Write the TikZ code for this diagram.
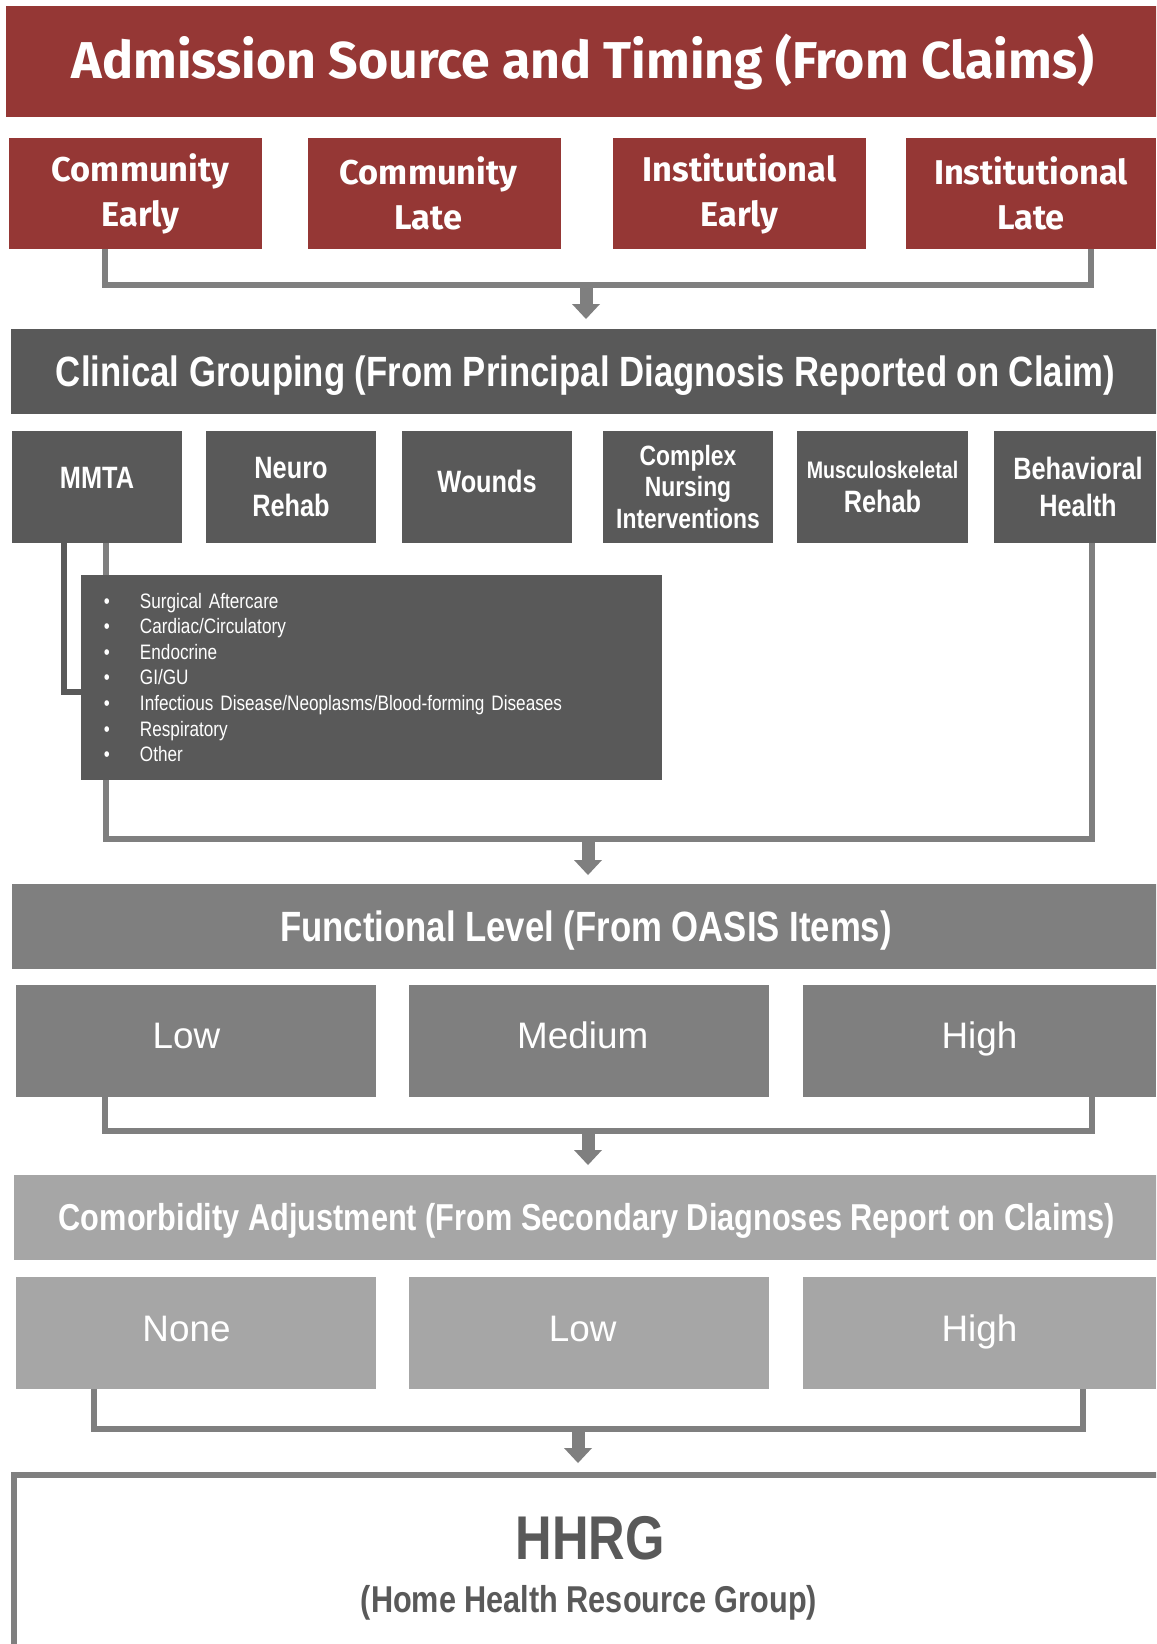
\documentclass[tikz,border=0pt]{standalone}
\usepackage{fontspec}
\setmainfont{Liberation Sans}
\newfontfamily\narrowfont[FakeStretch=0.82]{Liberation Sans}
\newfontfamily\headfont{Fira Sans}
\usetikzlibrary{arrows.meta,backgrounds}
\definecolor{cred}{HTML}{953735}
\definecolor{cdark}{HTML}{595959}
\definecolor{cmid}{HTML}{7F7F7F}
\definecolor{clight}{HTML}{A6A6A6}
\begin{document}
\begin{tikzpicture}[x=1bp,y=-1bp,
  box/.style={rectangle, inner sep=0pt, outer sep=0pt, text=white, align=center},
  titlered/.style={box, fill=cred, font=\headfont\bfseries\fontsize{52}{60}\selectfont, text height=35bp, text depth=0bp, minimum height=111bp},
  srcbox/.style={box, fill=cred, minimum width=253bp, minimum height=111bp, font=\headfont\bfseries\fontsize{34.5}{45}\selectfont},
  hdrdark/.style={box, fill=cdark, font=\narrowfont\bfseries\fontsize{42.5}{50}\selectfont, text height=30.4bp, text depth=0bp, minimum height=85bp},
  cgbox/.style={box, fill=cdark, minimum width=170bp, minimum height=112bp, font=\narrowfont\bfseries\fontsize{31}{38}\selectfont},
  listbox/.style={box, fill=cdark, minimum width=581bp, minimum height=205bp, text width=535bp, inner xsep=23bp, align=left, font=\narrowfont\fontsize{21}{25.7}\selectfont},
  hdrmid/.style={box, fill=cmid, font=\narrowfont\bfseries\fontsize{42.5}{50}\selectfont, text height=30.4bp, text depth=0bp, minimum height=85bp},
  lvlmid/.style={box, fill=cmid, minimum width=360bp, minimum height=112bp, font=\fontsize{37}{44}\selectfont, text height=26.5bp, text depth=12bp},
  hdrlight/.style={box, fill=clight, font=\narrowfont\bfseries\fontsize{37.6}{44}\selectfont, text height=26.9bp, text depth=0bp, minimum height=85bp},
  lvllight/.style={box, fill=clight, minimum width=360bp, minimum height=112bp, font=\fontsize{37}{44}\selectfont, text height=26.5bp, text depth=10bp},
  conn/.style={draw=cmid, line width=6bp},
  darkconn/.style={draw=cdark, line width=6bp},
  arr/.style={draw=cmid, line width=13bp, -{Triangle[width=28bp,length=15bp,line width=0pt]}},
  hhrgbox/.style={draw=cmid, line width=6bp, fill=white, minimum width=1160bp, minimum height=200bp, inner sep=0pt, outer sep=0pt, anchor=north west},
  hhrgtext/.style={inner sep=0pt, text=cdark, font=\narrowfont\bfseries}
]
\useasboundingbox (0,0) rectangle (1156,1644);
\clip (0,0) rectangle (1156,1644);

% Level 1
\node[titlered, minimum width=1154bp] (title) at (583,61.5) {Admission Source and Timing (From Claims)};
\node[srcbox] (ce) at (135.5,193.5) {\hspace*{10bp}Community\\\hspace*{10bp}Early};
\node[srcbox] (cl) at (434.5,193.5) {\hspace*{-12bp}Community\\\hspace*{-12bp}Late};
\node[srcbox] (ie) at (739.5,193.5) {Institutional\\Early};
\node[srcbox, minimum width=250bp] (il) at (1031,193.5) {Institutional\\Late};

% Level 2
\node[hdrdark, minimum width=1149bp] (cg) at (585.5,371.5) {Clinical Grouping (From Principal Diagnosis Reported on Claim)};
\node[cgbox, text height=22bp, text depth=20bp] (mmta) at (97,487) {MMTA};
\node[cgbox] (nr) at (291,487) {Neuro\\Rehab};
\node[cgbox, text height=22bp, text depth=12bp] (wo) at (487,487) {Wounds};
\node[cgbox, font=\narrowfont\bfseries\fontsize{28}{32}\selectfont] (cn) at (688,487) {Complex\\Nursing\\Interventions};
\node[cgbox, minimum width=171bp, font=\narrowfont\bfseries\fontsize{31}{35}\selectfont] (ms) at (882.5,487) {{\fontsize{24}{28}\selectfont Musculoskeletal}\\Rehab};
\node[cgbox, minimum width=162bp] (bh) at (1075,487) {\hspace*{6bp}Behavioral\\\hspace*{6bp}Health};
\node[listbox] (list) at (371.5,677.5) {%
\makebox[36bp][l]{•}Surgical Aftercare\\
\makebox[36bp][l]{•}Cardiac/Circulatory\\
\makebox[36bp][l]{•}Endocrine\\
\makebox[36bp][l]{•}GI/GU\\
\makebox[36bp][l]{•}Infectious Disease/Neoplasms/Blood-forming Diseases\\
\makebox[36bp][l]{•}Respiratory\\
\makebox[36bp][l]{•}Other};

% Level 3
\node[hdrmid, minimum width=1148bp] (fl) at (586,926.5) {Functional Level (From OASIS Items)};
\node[lvlmid] (flow) at (196,1041) {\hspace*{-19bp}Low};
\node[lvlmid] (fmed) at (589,1041) {\hspace*{-12.6bp}Medium};
\node[lvlmid, minimum width=353bp] (fhigh) at (979.5,1041) {High};

% Level 4
\node[hdrlight, minimum width=1146bp] (ca) at (587,1217.5) {Comorbidity Adjustment (From Secondary Diagnoses Report on Claims)};
\node[lvllight] (cnone) at (196,1333) {\hspace*{-19bp}None};
\node[lvllight] (clow) at (589,1333) {\hspace*{-12.6bp}Low};
\node[lvllight, minimum width=353bp] (chigh) at (979.5,1333) {High};

% Result
\node[hhrgbox] (hhrg) at (14,1475) {};
\node[hhrgtext, font=\narrowfont\bfseries\fontsize{62}{70}\selectfont, text height=44.4bp, text depth=0bp] (hhrgt) at (590,1537) {HHRG};
\node[hhrgtext, font=\narrowfont\bfseries\fontsize{37.5}{44}\selectfont, text height=26.8bp, text depth=0bp] (hhrgs) at (589,1599) {(Home Health Resource Group)};

% Connectors
\coordinate (b1) at (586,285);
\coordinate (b2) at (588,839);
\coordinate (b3) at (588,1131);
\coordinate (b4) at (578,1429);
\begin{scope}[on background layer]
  \fill[white] (0,0) rectangle (1156,1644);
  \draw[conn] ([xshift=96bp]ce.south west) |- (b1) -| ([xshift=185bp]il.south west);
  \draw[arr, shorten >=10bp] (b1) -- (b1 |- cg.north);
  \draw[darkconn] ([xshift=52bp]mmta.south west) |- ([yshift=-14.5bp]list.west);
  \draw[conn] ([xshift=94bp]mmta.south west) |- (b2) -| ([xshift=98bp]bh.south west);
  \draw[arr, shorten >=9bp] (b2) -- (b2 |- fl.north);
  \draw[conn] ([xshift=89bp]flow.south west) |- (b3) -| ([xshift=289bp]fhigh.south west);
  \draw[arr, shorten >=10bp] (b3) -- (b3 |- ca.north);
  \draw[conn] ([xshift=78bp]cnone.south west) |- (b4) -| ([xshift=280bp]chigh.south west);
  \draw[arr, shorten >=12bp] (b4) -- (b4 |- hhrg.north);
\end{scope}
\end{tikzpicture}
\end{document}
